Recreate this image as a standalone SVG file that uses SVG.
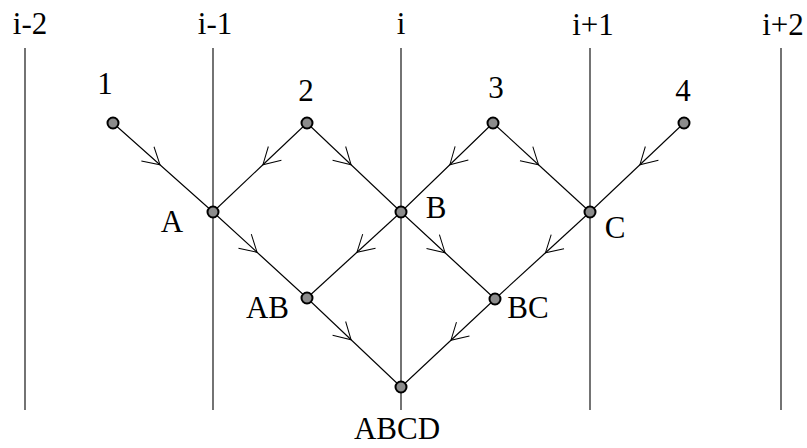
<svg xmlns="http://www.w3.org/2000/svg" width="807" height="448" viewBox="0 0 807 448">
<defs>
<marker id="v" viewBox="-20 -12 26 24" markerWidth="26" markerHeight="24" refX="4" refY="0" orient="auto" markerUnits="userSpaceOnUse">
<path d="M-16.5,-9.5 L0,0 L-16.5,9.5" fill="none" stroke="#000" stroke-width="1"/>
</marker>
</defs>
<style>
.ln{stroke:#000;stroke-width:1.1;fill:none}
.e{stroke:#000;stroke-width:1.1;fill:none;marker-mid:url(#v)}
.n{fill:#8c8c8c;stroke:#000;stroke-width:2}
text{font-family:"Liberation Serif","Times New Roman",serif;font-size:31px;fill:#000;text-anchor:middle}
</style>
<rect width="807" height="448" fill="#fff"/>
<g id="columns">
<line class="ln" x1="25" y1="48" x2="25" y2="410"/>
<line class="ln" x1="213" y1="48" x2="213" y2="410"/>
<line class="ln" x1="401" y1="48" x2="401" y2="410"/>
<line class="ln" x1="590" y1="48" x2="590" y2="410"/>
<line class="ln" x1="781" y1="48" x2="781" y2="410"/>
<text x="30" y="34">i-2</text>
<text x="215" y="34">i-1</text>
<text x="401" y="34">i</text>
<text x="593" y="35">i+1</text>
<text x="783" y="35">i+2</text>
</g>
<g id="connectors">
<polyline class="e" points="113,123 163,167.5 213,212"/>
<polyline class="e" points="307,123 260,167.5 213,212"/>
<polyline class="e" points="307,123 354,167.5 401,212"/>
<polyline class="e" points="493,123 447,167.5 401,212"/>
<polyline class="e" points="493,123 541.5,167.5 590,212"/>
<polyline class="e" points="684,123 637,167.5 590,212"/>
<polyline class="e" points="213,212 260,255 307,298"/>
<polyline class="e" points="401,212 354,255 307,298"/>
<polyline class="e" points="401,212 448,255.5 495,299"/>
<polyline class="e" points="590,212 542.5,255.5 495,299"/>
<polyline class="e" points="307,298 354,342.5 401,387"/>
<polyline class="e" points="495,299 448,343 401,387"/>
</g>
<g id="n1"><circle class="n" cx="113" cy="123" r="5.5"/><text x="105" y="94">1</text></g>
<g id="n2"><circle class="n" cx="307" cy="123" r="5.5"/><text x="306" y="101">2</text></g>
<g id="n3"><circle class="n" cx="493" cy="123" r="5.5"/><text x="496" y="98">3</text></g>
<g id="n4"><circle class="n" cx="684" cy="123" r="5.5"/><text x="683" y="101">4</text></g>
<g id="nA"><circle class="n" cx="213" cy="212" r="5.5"/><text x="172" y="232">A</text></g>
<g id="nB"><circle class="n" cx="401" cy="212" r="5.5"/><text x="436" y="218">B</text></g>
<g id="nC"><circle class="n" cx="590" cy="212" r="5.5"/><text x="615" y="238">C</text></g>
<g id="nAB"><circle class="n" cx="307" cy="298" r="5.5"/><text x="267.5" y="318">AB</text></g>
<g id="nBC"><circle class="n" cx="495" cy="299" r="5.5"/><text x="528" y="318">BC</text></g>
<g id="nABCD"><circle class="n" cx="401" cy="387" r="5.5"/><text x="397" y="439">ABCD</text></g>
</svg>
